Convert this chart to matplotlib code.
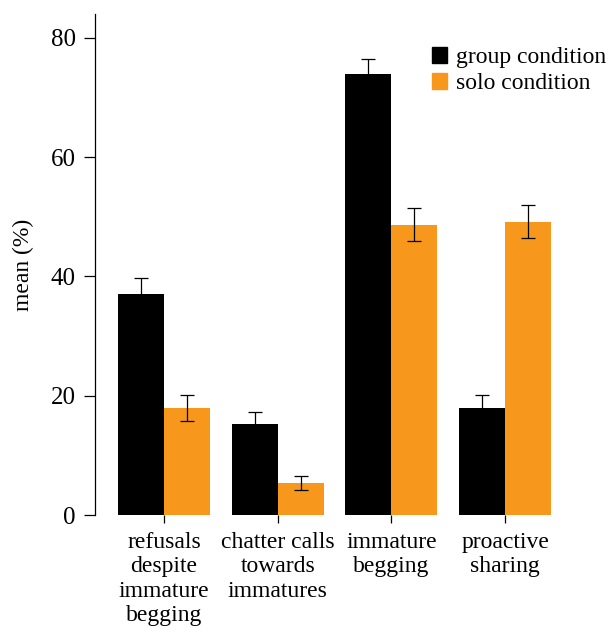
import matplotlib.pyplot as plt
import matplotlib.patches as mpatches
import numpy as np

plt.rcParams['font.family'] = ['Liberation Serif', 'DejaVu Serif']

# Данные
categories = ['refusals\ndespite\nimmature\nbegging', 'chatter calls\ntowards\nimmatures',
              'immature\nbegging', 'proactive\nsharing']
group_mean = [37.0, 15.2, 74.0, 18.0]
group_err = [2.7, 2.0, 2.4, 2.1]
solo_mean = [18.0, 5.4, 48.7, 49.2]
solo_err = [2.2, 1.2, 2.8, 2.8]

black = '#000000'
orange = '#f7981d'

fig = plt.figure(figsize=(6.09, 6.36), dpi=100)
ax = fig.add_axes([95 / 609, 1 - 515 / 636, (562 - 95) / 609, (515 - 14) / 636])

x = np.arange(len(categories))
w = 0.405
ax.bar(x - w / 2, group_mean, w, color=black, yerr=group_err,
       error_kw=dict(ecolor='black', elinewidth=0.9, capsize=5, capthick=0.9))
ax.bar(x + w / 2, solo_mean, w, color=orange, yerr=solo_err,
       error_kw=dict(ecolor='black', elinewidth=0.9, capsize=5, capthick=0.9))

ax.set_xlim(-0.607, 3.5)
ax.set_ylim(0, 84)
ax.set_yticks([0, 20, 40, 60, 80])
ax.set_xticks(x)
ax.set_xticklabels(categories, fontsize=17, linespacing=1.22)
ax.tick_params(axis='y', labelsize=18, length=8, width=0.9, pad=6)
ax.tick_params(axis='x', length=6, width=0.9, pad=6)
ax.set_ylabel('mean (%)', fontsize=17, labelpad=12)

for s in ['top', 'right', 'bottom']:
    ax.spines[s].set_visible(False)
ax.spines['left'].set_linewidth(0.9)

handles = [mpatches.Patch(color=black, label='group condition'),
           mpatches.Patch(color=orange, label='solo condition')]
fig.legend(handles=handles, loc='upper left', bbox_to_anchor=(432 / 609, 1 - 47 / 636),
           bbox_transform=fig.transFigure, frameon=False,
           fontsize=17, handlelength=0.65, handleheight=0.65, handletextpad=0.35,
           labelspacing=0.2, borderpad=0, borderaxespad=0)

fig.savefig('out.png', dpi=100)
